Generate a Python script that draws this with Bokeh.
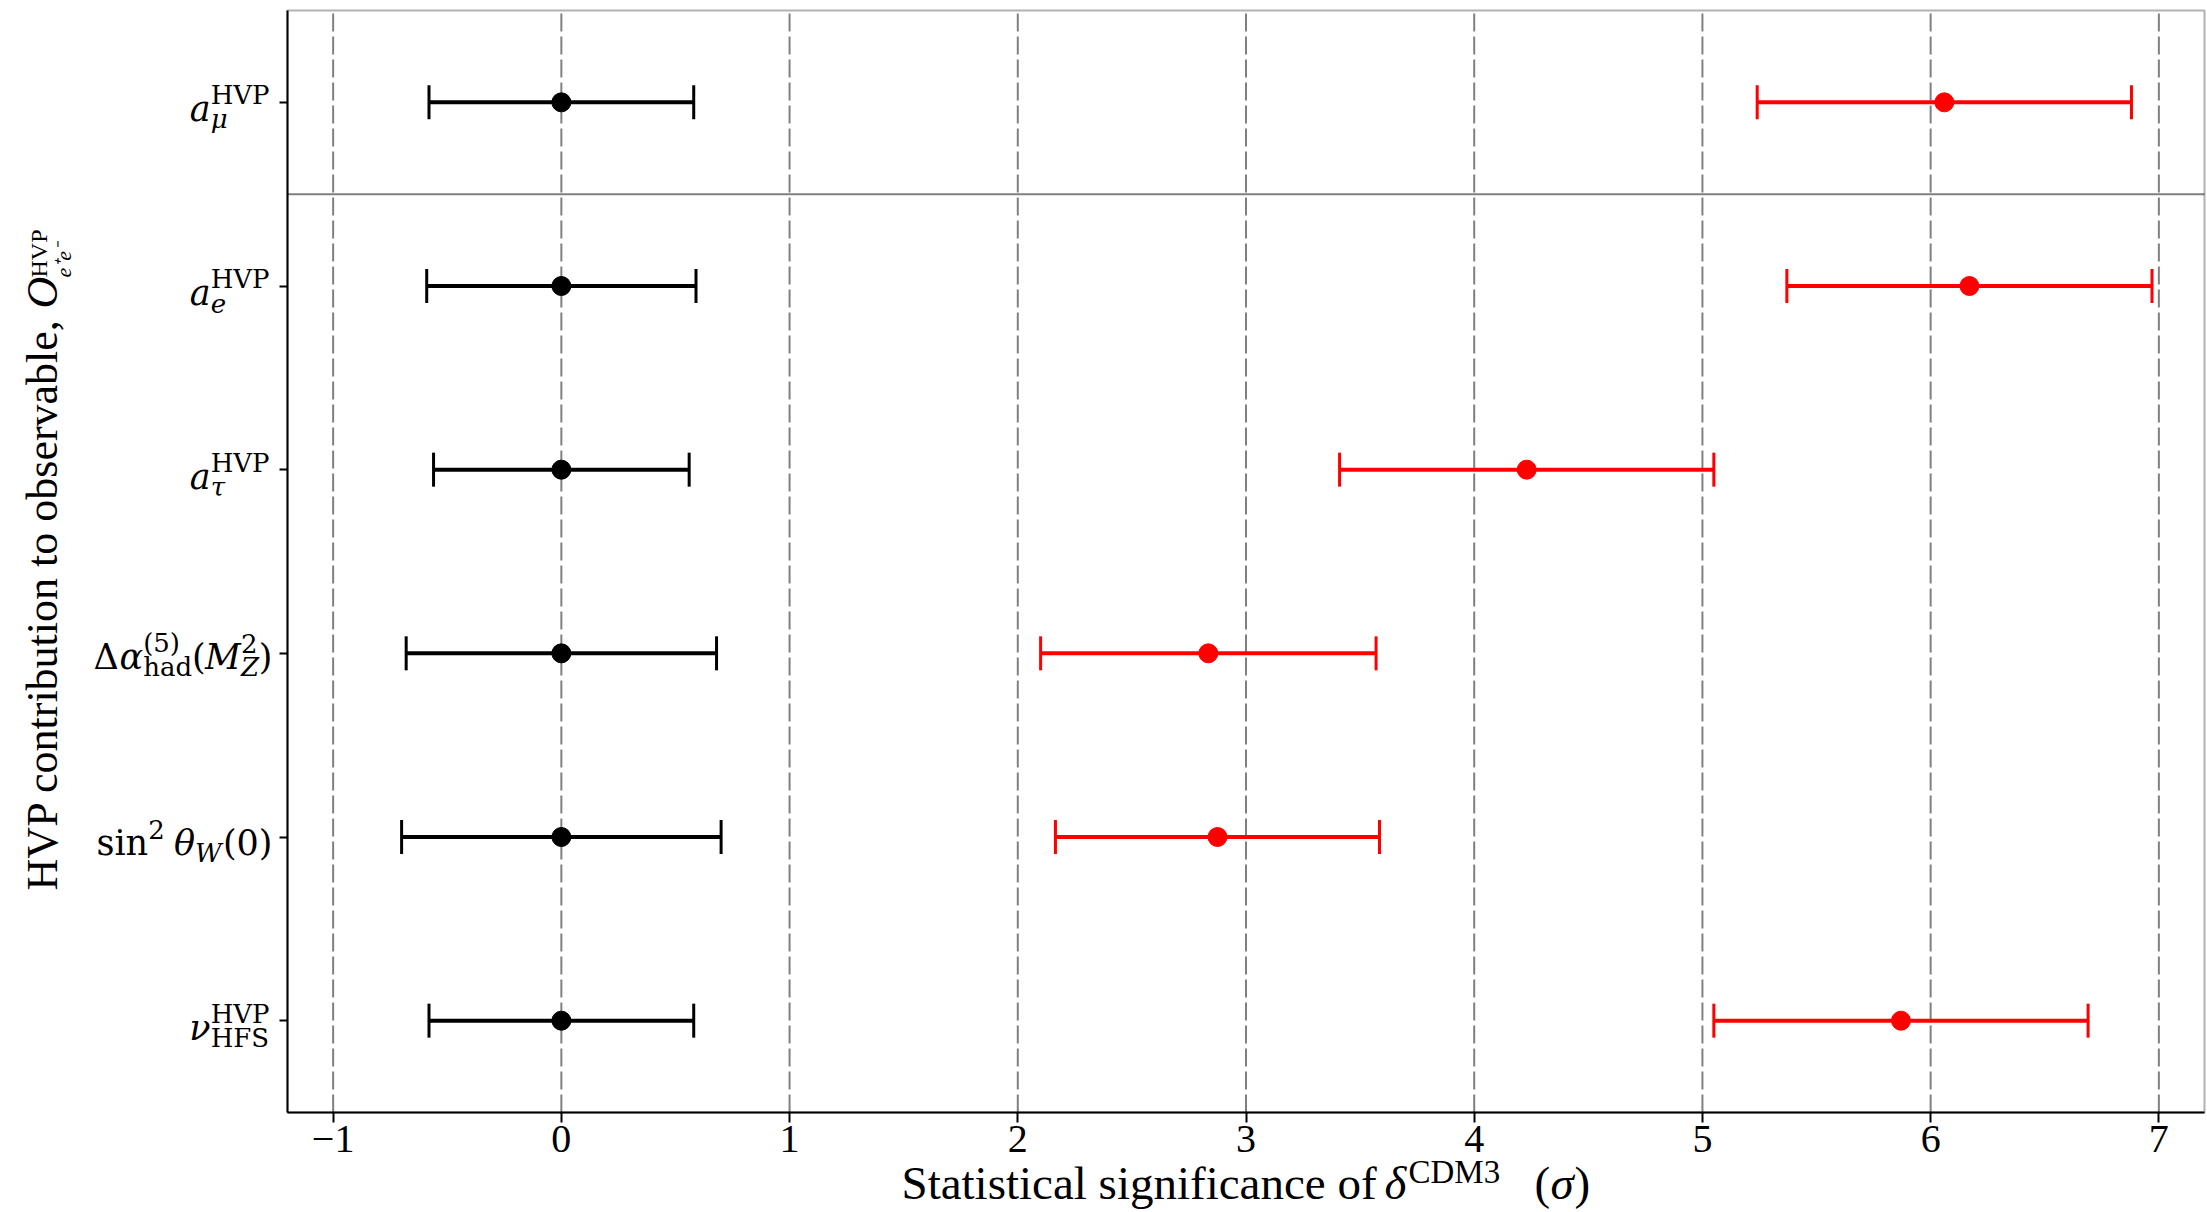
import math
from bokeh.plotting import figure
from bokeh.models import ColumnDataSource, Range1d, FixedTicker, Whisker, TeeHead, Label, BoxAnnotation
from bokeh.embed import file_html
from bokeh.resources import INLINE

# ---------------- data ----------------
observables = ["a_mu", "a_e", "a_tau", "dalpha_had", "sin2_thetaW", "nu_HFS"]
sm_center = [0.0, 0.0, 0.0, 0.0, 0.0, 0.0]
sm_err = [0.58, 0.59, 0.56, 0.68, 0.70, 0.58]
cdm3_center = [6.06, 6.17, 4.23, 2.835, 2.875, 5.87]
cdm3_err = [0.82, 0.80, 0.82, 0.735, 0.71, 0.82]
x_ticks = [-1, 0, 1, 2, 3, 4, 5, 6, 7]
x_tick_labels = ["\u22121", "0", "1", "2", "3", "4", "5", "6", "7"]


def A(base, it=False, sup=None, sub=None, sub_it=False):
    return dict(base=base, it=it, sup=sup, sub=sub, sub_it=sub_it)


# tick label pieces (base, superscript, subscript)
y_tick_labels = [
    [A("a", True, sup="HVP", sub="\u03bc", sub_it=True)],
    [A("a", True, sup="HVP", sub="e", sub_it=True)],
    [A("a", True, sup="HVP", sub="\u03c4", sub_it=True)],
    [A("\u0394"), A("\u03b1", True, sup="(5)", sub="had"), A("("),
     A("M", True, sup="2", sub="Z", sub_it=True), A(")")],
    [A("sin", sup="2"), A(" "), A("\u03b8", True, sub="W", sub_it=True), A("(0)")],
    [A("\u03bd", True, sup="HVP", sub="HFS")],
]
row_baseline = [-7, -7, -7, -4, -6, -7]

n = len(observables)
ys = [n - 1 - i for i in range(n)]

# ---------------- geometry ----------------
W, H = 2207, 1212            # canvas size
XA, XB = -1.2, 7.2           # plotting-area x limits
YA, YB = -0.5, 5.5           # plotting-area y limits
FL, FR, FT, FB = 287, 2204, 10, 1112   # canvas coords of plotting-area box
kx = (FR - FL) / (XB - XA)
ky = (FB - FT) / (YB - YA)
x_start = XA - FL / kx
x_end = x_start + W / kx
y_end = YB + FT / ky
y_start = y_end - H / ky

p = figure(width=W, height=H, output_backend="svg", toolbar_location=None,
           x_range=Range1d(x_start, x_end), y_range=Range1d(y_start, y_end), title=None,
           min_border=0, min_border_left=0, min_border_right=0, min_border_top=0,
           min_border_bottom=0)
p.background_fill_color = "white"
p.border_fill_color = "white"
p.outline_line_color = None
p.grid.visible = False

# axes (library axes pinned to the plotting-area edges)
p.xaxis.fixed_location = YA
p.xaxis.bounds = (XA, XB)
p.xaxis.ticker = FixedTicker(ticks=x_ticks)
p.xaxis.major_label_overrides = {t: l for t, l in zip(x_ticks, x_tick_labels)}
p.xaxis.major_label_text_font = "Liberation Serif"
p.xaxis.major_label_text_font_size = "40px"
p.xaxis.major_label_text_color = "black"
p.xaxis.major_label_standoff = 3
p.xaxis.major_tick_in = 0
p.xaxis.major_tick_out = 10
p.xaxis.minor_tick_in = 0
p.xaxis.minor_tick_out = 0
p.xaxis.major_tick_line_width = 2
p.xaxis.axis_line_width = 2

p.yaxis.fixed_location = XA
p.yaxis.bounds = (YA, YB)
p.yaxis.ticker = FixedTicker(ticks=ys)
p.yaxis.major_label_overrides = {y: "" for y in ys}
p.yaxis.major_tick_in = 0
p.yaxis.major_tick_out = 8
p.yaxis.minor_tick_in = 0
p.yaxis.minor_tick_out = 0
p.yaxis.major_tick_line_width = 2
p.yaxis.axis_line_width = 2

# dashed vertical grid at the x ticks, limited to the plotting area
grid_src = ColumnDataSource(dict(x=x_ticks, y0=[YA] * len(x_ticks), y1=[YB] * len(x_ticks)))
g = p.segment(x0="x", y0="y0", x1="x", y1="y1", source=grid_src,
              line_color="#808080", line_width=2, line_dash="18 5")
g.level = "image"

# separator between a_mu and the e+e- based observables
sep = p.segment(x0=[XA], y0=[ys[0] - 0.5], x1=[XB], y1=[ys[0] - 0.5],
                line_color="#808080", line_width=2)
sep.level = "image"

# plotting-area box
p.add_layout(BoxAnnotation(left=XA, right=XB, bottom=YA, top=YB, fill_alpha=0,
                           fill_color=None, line_color="black", line_width=2, level="image"))

# ---------------- error bars ----------------
def add_series(centers, errs, color):
    src = ColumnDataSource(dict(
        x=centers, y=ys,
        lower=[c - e for c, e in zip(centers, errs)],
        upper=[c + e for c, e in zip(centers, errs)],
    ))
    w = Whisker(source=src, base="y", lower="lower", upper="upper", dimension="width",
                line_color=color, line_width=4,
                lower_head=TeeHead(size=34, line_color=color, line_width=3),
                upper_head=TeeHead(size=34, line_color=color, line_width=3))
    p.add_layout(w)
    p.scatter("x", "y", source=src, size=19, color=color)

add_series(sm_center, sm_err, "black")
add_series(cdm3_center, cdm3_err, "#ff0000")

# ---------------- tick labels (math-like) ----------------
MATH_FONT = "DejaVu Serif"
M_SIZE, S_SIZE = 35, 26
REG = {'H': 0.872, 'V': 0.773, 'P': 0.734, 'F': 0.712, 'S': 0.686, '(': 0.390, ')': 0.390,
       '0': 0.636, '2': 0.636, '5': 0.636, 'h': 0.644, 'a': 0.596, 'd': 0.640, 's': 0.541,
       'i': 0.320, 'n': 0.644, '\u0394': 0.774, ' ': 0.25}
IT = {'a': 0.596, 'e': 0.592, '\u03bc': 0.640, '\u03c4': 0.540, '\u03b1': 0.700,
      '\u03b8': 0.620, '\u03bd': 0.600, 'M': 1.006, 'Z': 0.690, 'W': 1.070}


def tw(s, size, italic):
    tab = IT if italic else REG
    return sum(tab.get(c, 0.6) for c in s) * size


def lab(x, y, xo, yo, text, size, font, italic=False, align="left", angle=0.0):
    p.add_layout(Label(x=x, y=y, x_offset=xo, y_offset=yo, text=text,
                       text_font=font, text_font_size=f"{size}px",
                       text_font_style="italic" if italic else "normal",
                       text_align=align, text_baseline="alphabetic",
                       text_color="black", angle=angle))


for yv, atoms, mb in zip(ys, y_tick_labels, row_baseline):
    xr = -15.0
    for a in reversed(atoms):
        if a["sup"] or a["sub"]:
            sw = max(tw(a["sup"] or "", S_SIZE, False), tw(a["sub"] or "", S_SIZE, a["sub_it"]))
            xl = xr - sw
            if a["sup"]:
                lab(XA, yv, xl, mb + 14, a["sup"], S_SIZE, MATH_FONT)
            if a["sub"]:
                lab(XA, yv, xl, mb - 10, a["sub"], S_SIZE, MATH_FONT, a["sub_it"])
            xr = xl
        if a["base"].strip():
            lab(XA, yv, xr, mb, a["base"], M_SIZE, MATH_FONT, a["it"], align="right")
        xr -= tw(a["base"], M_SIZE, a["it"])


# ---------------- axis titles ----------------
TF = "Liberation Serif"


def page_lab(px, py, text, size, italic=False, align="left", angle=0.0):
    lab(XA, YA, px - FL, -(py - FB), text, size, TF, italic, align, angle)

# x title
page_lab(901, 1182, "Statistical significance of", 47)
page_lab(1384, 1182, "\u03b4", 47, italic=True)
page_lab(1408, 1171, "CDM3", 33)
page_lab(1534, 1182, "(", 47)
page_lab(1550, 1182, "\u03c3", 47, italic=True)
page_lab(1574, 1182, ")", 47)

# y title (rotated)
R = math.pi / 2
page_lab(42, 318, "HVP contribution to observable,", 44, align="right", angle=R)
page_lab(42, 308, "O", 44, italic=True, angle=R)
page_lab(38, 277, "HVP", 24, angle=R)
page_lab(63, 277, "e\u207ae\u207b", 22, italic=True, angle=R)

open("out.html", "w").write(file_html(p, INLINE))
